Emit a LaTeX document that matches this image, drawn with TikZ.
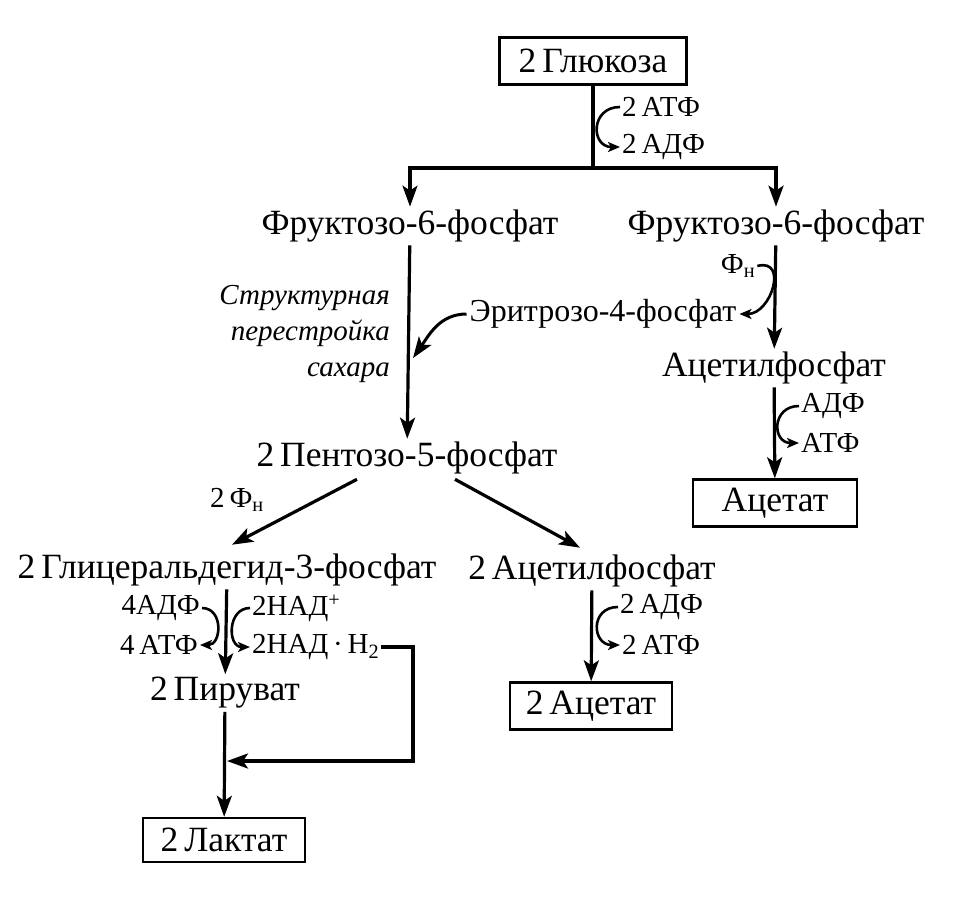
\documentclass[tikz,border=0pt]{standalone}
\usepackage{fontspec}
\setmainfont{Liberation Serif}
\usepackage{tikz}
\usetikzlibrary{arrows.meta,calc,positioning}

\tikzset{
  chem/.style={inner sep=3pt,font=\fontsize{35.5}{40}\selectfont},
  cof/.style={inner sep=2pt,font=\fontsize{29}{33}\selectfont},
  endbox/.style={chem,draw,line width=2.4pt,minimum height=47pt},
  flow/.style={line width=3.2pt,-{Stealth[length=21pt,width=15pt,inset=5pt]}},
  curv/.style={line width=2.6pt,-{Stealth[length=12pt,width=10pt,inset=3pt]}},
}

\begin{document}
\begin{tikzpicture}[x=1pt,y=-1pt]
  \useasboundingbox (0,0) rectangle (960,906);
  % top: glucose
  \node[endbox,minimum width=187pt] (glc) at (593,61) {2\,Глюкоза};
  \node[cof,anchor=west] (atp1) at (620,107) {2\,АТФ};
  \node[cof,anchor=west] (adp1) at (620,147) {2\,АДФ};
  \coordinate (split) at (593,168);
  \node[chem] (fruL) at (410,226) {Фруктозо-6-фосфат};
  \node[chem] (fruR) at (776,226) {Фруктозо-6-фосфат};
  \draw[line width=3.2pt] (glc) -- (split);
  \draw[flow] (split) -| (fruL);
  \draw[flow] (split) -| (fruR);
  \draw[curv] (atp1.west) to[out=180,in=180,looseness=1.9] (adp1.west);
  % left branch
  \node[chem,font=\fontsize{29}{36}\selectfont\itshape,align=right,anchor=east] (sug) at (393,334)
    {Структурная\\перестройка\\сахара};
  \node[chem,font=\fontsize{32}{36}\selectfont] (eryth) at (603,314) {Эритрозо-4-фосфат};
  \node[chem] (pent) at (407,458) {2\,Пентозо-5-фосфат};
  \draw[flow] (fruL) -- (pent);
  \coordinate (eryin) at (413,358);
  \draw[flow,line width=3pt] (eryth.west) to[out=180,in=55] (eryin);
  % right branch
  \node[cof] (phi1) at (738,266) {Ф\textsubscript{н}};
  \node[chem] (acphR) at (774,368) {Ацетилфосфат};
  \node[cof,anchor=west] (adpR) at (799,406) {АДФ};
  \node[cof,anchor=west] (atpR) at (799,443) {АТФ};
  \node[endbox,minimum width=164pt] (acetR) at (775,503) {Ацетат};
  \draw[flow] (fruR) -- (acphR);
  \draw[flow] (acphR) -- (acetR);
  \draw[curv] (phi1.east) to[out=15,in=0,looseness=1.6] (eryth.east);
  \draw[curv] (adpR.west) to[out=180,in=180,looseness=1.9] (atpR.west);
  % pentose split
  \node[cof] (phi2) at (237,500) {2\,Ф\textsubscript{н}};
  \node[chem] (gap) at (227,570) {2\,Глицеральдегид-3-фосфат};
  \node[chem] (acph) at (592,571) {2\,Ацетилфосфат};
  \draw[flow] ($(pent.south)+(-50,2)$) -- ($(gap.north)+(5,-6)$);
  \draw[flow] ($(pent.south)+(48,2)$) -- ($(acph.north)+(-12,-4)$);
  % glycolysis part
  \node[cof,anchor=east] (adp4) at (202,608) {4АДФ};
  \node[cof,anchor=east] (atp4) at (200,645) {4\,АТФ};
  \node[cof,anchor=west] (nad) at (250,608) {2НАД\textsuperscript{+}};
  \node[cof,anchor=west] (nadh) at (250,647) {2НАД\,·\,Н\textsubscript{2}};
  \node[chem] (pyr) at (225,693) {2\,Пируват};
  \node[endbox,minimum width=162pt,minimum height=44pt] (lact) at (224,840) {2\,Лактат};
  \draw[flow] (gap) -- (pyr);
  \draw[flow] (pyr) -- (lact);
  \draw[curv] (adp4.east) to[out=0,in=0,looseness=1.5] (atp4.east);
  \draw[curv] (nad.west) to[out=180,in=180,looseness=1.5] (nadh.west);
  \coordinate (turn) at (413,647);
  \coordinate (join) at (227,761);
  \draw[flow] (nadh.east) -- (turn) |- (join);
  % acetate part
  \node[cof,anchor=west] (adp2) at (618,607) {2\,АДФ};
  \node[cof,anchor=west] (atp2) at (620,645) {2\,АТФ};
  \node[endbox,minimum width=162pt] (acet2) at (591,706) {2\,Ацетат};
  \draw[flow] (acph) -- (acet2);
  \draw[curv] (adp2.west) to[out=180,in=180,looseness=1.9] (atp2.west);
\end{tikzpicture}
\end{document}
